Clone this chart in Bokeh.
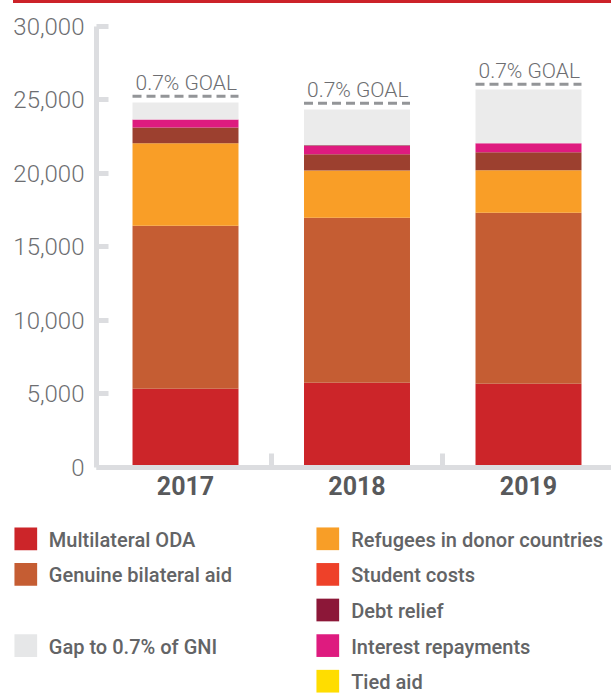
from bokeh.plotting import figure
from bokeh.models import Range1d, FixedTicker, NumeralTickFormatter, Div, ColumnDataSource
from bokeh.layouts import column
from bokeh.core.properties import value
from bokeh.embed import file_html
from bokeh.resources import INLINE

# ---------------- data (million) ----------------
years = ["2017", "2018", "2019"]
multilateral_oda = [5354, 5762, 5694]
genuine_bilateral_aid = [11088, 11224, 11633]
refugees_in_donor_countries = [5599, 3198, 2877]
student_costs = [1068, 1109, 1225]
interest_repayments = [544, 571, 612]
debt_relief = [0, 45, 0]
tied_aid = [0, 0, 0]
gap_to_goal = [1157, 2424, 3653]
goal_marker = [25240, 24760, 26050]
goal_label = "0.7% GOAL"
y_ticks = [0, 5000, 10000, 15000, 20000, 25000, 30000]

stack_keys = ["multilateral", "genuine", "refugees", "students",
              "interest", "debt", "tied", "gap"]
stack_values = [multilateral_oda, genuine_bilateral_aid, refugees_in_donor_countries,
                student_costs, interest_repayments, debt_relief, tied_aid, gap_to_goal]
bar_colors = ["#cc2529", "#c55d33", "#f99e27", "#9c402f",
              "#de1b7f", "#8c1738", "#ffdd00", "#ebebeb"]

legend_labels = ["Multilateral ODA", "Genuine bilateral aid", "Gap to 0.7% of GNI",
                 "Refugees in donor countries", "Student costs", "Debt relief",
                 "Interest repayments", "Tied aid"]
legend_colors = ["#cc2529", "#c55d33", "#e6e7e8",
                 "#f89e27", "#ee4129", "#8c1738", "#de1b7f", "#ffdd00"]
legend_cols = [0, 0, 0, 1, 1, 1, 1, 1]
legend_rows = [0, 1, 3, 0, 1, 2, 3, 4]

LIGHT = "Roboto Light, Roboto"
MEDIUM = "Roboto Medium, Roboto"

# ---------------- chart ----------------
xs = list(range(len(years)))
bar_w = 0.618
data = {"x": xs}
for k, v in zip(stack_keys, stack_values):
    data[k] = v
src = ColumnDataSource(data)

GRAY = "#dcdde0"
p = figure(width=611, height=502, x_range=Range1d(-0.519, 2.484),
           y_range=Range1d(0, 31272), output_backend="svg", toolbar_location=None,
           min_border_left=96, min_border_right=0, min_border_top=4,
           min_border_bottom=38)
p.frame_align = False
p.xgrid.visible = False
p.ygrid.visible = False
p.outline_line_color = None

p.vbar_stack(stack_keys, x="x", width=bar_w, fill_color=bar_colors,
             line_color=None, source=src)

half = bar_w / 2
p.segment(x0=[x - half for x in xs], x1=[x + half for x in xs],
          y0=goal_marker, y1=goal_marker, line_color="#939598",
          line_width=3, line_dash="9 5")
p.text(x=[x - half for x in xs], y=goal_marker, text=[goal_label] * len(xs),
       x_offset=3, y_offset=-13, text_font=value(LIGHT),
       text_font_size="21px", text_color="#6d6e71", text_baseline="alphabetic",
       text_align="left")

ya = p.yaxis[0]
ya.ticker = FixedTicker(ticks=y_ticks)
ya.formatter = NumeralTickFormatter(format="0,0")
ya.bounds = (0, 30000)
ya.axis_line_width = 5
ya.axis_line_color = GRAY
ya.major_tick_in = 12
ya.major_tick_out = 0
ya.major_tick_line_width = 5
ya.major_tick_line_color = GRAY
ya.minor_tick_line_color = None
ya.major_label_text_font = LIGHT
ya.major_label_text_font_size = "24px"
ya.major_label_text_color = "#6d6e71"
ya.major_label_standoff = 12

xa = p.xaxis[0]
xa.ticker = FixedTicker(ticks=xs, minor_ticks=[x + 0.5 for x in xs[:-1]])
xa.major_label_overrides = {x: y for x, y in zip(xs, years)}
xa.major_tick_line_color = None
xa.major_tick_in = 0
xa.major_tick_out = 0
xa.minor_tick_in = 14
xa.minor_tick_out = 0
xa.minor_tick_line_width = 5
xa.minor_tick_line_color = GRAY
xa.axis_line_width = 5
xa.axis_line_color = GRAY
xa.major_label_text_font = "Roboto"
xa.major_label_text_font_style = "bold"
xa.major_label_text_font_size = "25px"
xa.major_label_text_color = "#58595b"
xa.major_label_standoff = 8

# ---------------- legend ----------------
LH = 190
lg = figure(width=611, height=LH, x_range=Range1d(0, 611), y_range=Range1d(LH, 0),
            output_backend="svg", toolbar_location=None, min_border=0)
lg.frame_align = False
lg.axis.visible = False
lg.grid.visible = False
lg.outline_line_color = None
sw_x = [25.3, 327.3]
tx_x = [48.3, 350.7]
row_y0, row_step, sw = 33.3, 35.6, 22.7
ly = [row_y0 + r * row_step for r in legend_rows]
lg.rect(x=[sw_x[c] for c in legend_cols], y=ly, width=sw, height=sw,
        fill_color=legend_colors, line_color=None)
lg.text(x=[tx_x[c] for c in legend_cols], y=ly, text=legend_labels, y_offset=1,
        text_font=value(MEDIUM), text_font_size="20px", text_color="#636466",
        text_baseline="alphabetic", text_align="left")

red = Div(text="", width=598, height=3, margin=(0, 0, 0, 13),
          styles={"background-color": "#cc2229"})

layout = column(red, p, lg, spacing=0,
                styles={"position": "absolute", "top": "0px", "left": "0px"})

open("out.html", "w").write(file_html(layout, INLINE))
